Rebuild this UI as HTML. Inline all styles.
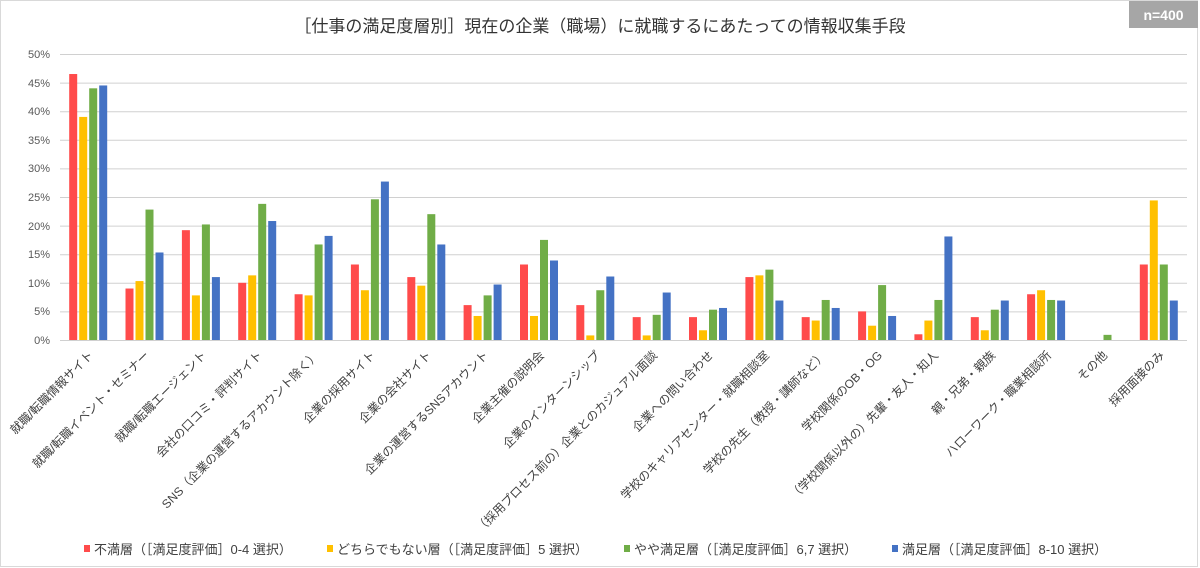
<!DOCTYPE html>
<html><head><meta charset="utf-8"><style>
body{margin:0;background:#fff;}
svg{display:block;font-family:"Liberation Sans","Noto Sans CJK JP",sans-serif;}
</style></head><body>
<svg width="1200" height="568" viewBox="0 0 1200 568" xmlns="http://www.w3.org/2000/svg">
<rect x="0.5" y="0.5" width="1197" height="566" fill="#fff" stroke="#d9d9d9"/>
<rect x="1129" y="1" width="69" height="27" fill="#a6a6a6"/>
<text x="1163.5" y="20" text-anchor="middle" font-size="14" font-weight="bold" fill="#fff">n=400</text>
<text x="600" y="32" text-anchor="middle" font-size="17" fill="#333">［仕事の満足度層別］現在の企業（職場）に就職するにあたっての情報収集手段</text>
<g stroke="#d0d0d0" stroke-width="1">
<line x1="60" x2="1187" y1="54.5" y2="54.5"/><line x1="60" x2="1187" y1="83.1" y2="83.1"/>
<line x1="60" x2="1187" y1="111.7" y2="111.7"/><line x1="60" x2="1187" y1="140.3" y2="140.3"/>
<line x1="60" x2="1187" y1="168.9" y2="168.9"/><line x1="60" x2="1187" y1="197.5" y2="197.5"/>
<line x1="60" x2="1187" y1="226.1" y2="226.1"/><line x1="60" x2="1187" y1="254.7" y2="254.7"/>
<line x1="60" x2="1187" y1="283.3" y2="283.3"/><line x1="60" x2="1187" y1="311.9" y2="311.9"/>
<line x1="60" x2="1187" y1="340.5" y2="340.5"/>
</g>
<g font-size="11" fill="#595959" text-anchor="end">
<text x="50" y="58">50%</text><text x="50" y="87">45%</text><text x="50" y="115">40%</text>
<text x="50" y="144">35%</text><text x="50" y="172">30%</text><text x="50" y="201">25%</text>
<text x="50" y="230">20%</text><text x="50" y="258">15%</text><text x="50" y="287">10%</text>
<text x="50" y="315">5%</text><text x="50" y="344">0%</text>
</g>
<g id="bars">
<g transform="translate(88.2,340) scale(1,-5.72)"><rect x="-19" width="8" height="46.5" fill="#ff4b4b"/><rect x="-9" width="8" height="39" fill="#ffc000"/><rect x="1" width="8" height="44" fill="#70ad47"/><rect x="11" width="8" height="44.5" fill="#4472c4"/></g>
<g transform="translate(144.5,340) scale(1,-5.72)"><rect x="-19" width="8" height="9" fill="#ff4b4b"/><rect x="-9" width="8" height="10.3" fill="#ffc000"/><rect x="1" width="8" height="22.8" fill="#70ad47"/><rect x="11" width="8" height="15.3" fill="#4472c4"/></g>
<g transform="translate(200.9,340) scale(1,-5.72)"><rect x="-19" width="8" height="19.2" fill="#ff4b4b"/><rect x="-9" width="8" height="7.8" fill="#ffc000"/><rect x="1" width="8" height="20.2" fill="#70ad47"/><rect x="11" width="8" height="11" fill="#4472c4"/></g>
<g transform="translate(257.2,340) scale(1,-5.72)"><rect x="-19" width="8" height="10" fill="#ff4b4b"/><rect x="-9" width="8" height="11.3" fill="#ffc000"/><rect x="1" width="8" height="23.8" fill="#70ad47"/><rect x="11" width="8" height="20.8" fill="#4472c4"/></g>
<g transform="translate(313.6,340) scale(1,-5.72)"><rect x="-19" width="8" height="8" fill="#ff4b4b"/><rect x="-9" width="8" height="7.8" fill="#ffc000"/><rect x="1" width="8" height="16.7" fill="#70ad47"/><rect x="11" width="8" height="18.2" fill="#4472c4"/></g>
<g transform="translate(369.9,340) scale(1,-5.72)"><rect x="-19" width="8" height="13.2" fill="#ff4b4b"/><rect x="-9" width="8" height="8.7" fill="#ffc000"/><rect x="1" width="8" height="24.6" fill="#70ad47"/><rect x="11" width="8" height="27.7" fill="#4472c4"/></g>
<g transform="translate(426.3,340) scale(1,-5.72)"><rect x="-19" width="8" height="11" fill="#ff4b4b"/><rect x="-9" width="8" height="9.5" fill="#ffc000"/><rect x="1" width="8" height="22" fill="#70ad47"/><rect x="11" width="8" height="16.7" fill="#4472c4"/></g>
<g transform="translate(482.6,340) scale(1,-5.72)"><rect x="-19" width="8" height="6.1" fill="#ff4b4b"/><rect x="-9" width="8" height="4.2" fill="#ffc000"/><rect x="1" width="8" height="7.8" fill="#70ad47"/><rect x="11" width="8" height="9.7" fill="#4472c4"/></g>
<g transform="translate(539,340) scale(1,-5.72)"><rect x="-19" width="8" height="13.2" fill="#ff4b4b"/><rect x="-9" width="8" height="4.2" fill="#ffc000"/><rect x="1" width="8" height="17.5" fill="#70ad47"/><rect x="11" width="8" height="13.9" fill="#4472c4"/></g>
<g transform="translate(595.3,340) scale(1,-5.72)"><rect x="-19" width="8" height="6.1" fill="#ff4b4b"/><rect x="-9" width="8" height="0.8" fill="#ffc000"/><rect x="1" width="8" height="8.7" fill="#70ad47"/><rect x="11" width="8" height="11.1" fill="#4472c4"/></g>
<g transform="translate(651.7,340) scale(1,-5.72)"><rect x="-19" width="8" height="4" fill="#ff4b4b"/><rect x="-9" width="8" height="0.8" fill="#ffc000"/><rect x="1" width="8" height="4.4" fill="#70ad47"/><rect x="11" width="8" height="8.3" fill="#4472c4"/></g>
<g transform="translate(708,340) scale(1,-5.72)"><rect x="-19" width="8" height="4" fill="#ff4b4b"/><rect x="-9" width="8" height="1.7" fill="#ffc000"/><rect x="1" width="8" height="5.3" fill="#70ad47"/><rect x="11" width="8" height="5.6" fill="#4472c4"/></g>
<g transform="translate(764.4,340) scale(1,-5.72)"><rect x="-19" width="8" height="11" fill="#ff4b4b"/><rect x="-9" width="8" height="11.3" fill="#ffc000"/><rect x="1" width="8" height="12.3" fill="#70ad47"/><rect x="11" width="8" height="6.9" fill="#4472c4"/></g>
<g transform="translate(820.7,340) scale(1,-5.72)"><rect x="-19" width="8" height="4" fill="#ff4b4b"/><rect x="-9" width="8" height="3.4" fill="#ffc000"/><rect x="1" width="8" height="7" fill="#70ad47"/><rect x="11" width="8" height="5.6" fill="#4472c4"/></g>
<g transform="translate(877.1,340) scale(1,-5.72)"><rect x="-19" width="8" height="5" fill="#ff4b4b"/><rect x="-9" width="8" height="2.5" fill="#ffc000"/><rect x="1" width="8" height="9.6" fill="#70ad47"/><rect x="11" width="8" height="4.2" fill="#4472c4"/></g>
<g transform="translate(933.4,340) scale(1,-5.72)"><rect x="-19" width="8" height="1" fill="#ff4b4b"/><rect x="-9" width="8" height="3.4" fill="#ffc000"/><rect x="1" width="8" height="7" fill="#70ad47"/><rect x="11" width="8" height="18.1" fill="#4472c4"/></g>
<g transform="translate(989.8,340) scale(1,-5.72)"><rect x="-19" width="8" height="4" fill="#ff4b4b"/><rect x="-9" width="8" height="1.7" fill="#ffc000"/><rect x="1" width="8" height="5.3" fill="#70ad47"/><rect x="11" width="8" height="6.9" fill="#4472c4"/></g>
<g transform="translate(1046.1,340) scale(1,-5.72)"><rect x="-19" width="8" height="8" fill="#ff4b4b"/><rect x="-9" width="8" height="8.7" fill="#ffc000"/><rect x="1" width="8" height="7" fill="#70ad47"/><rect x="11" width="8" height="6.9" fill="#4472c4"/></g>
<g transform="translate(1102.5,340) scale(1,-5.72)"><rect x="1" width="8" height="0.9" fill="#70ad47"/></g>
<g transform="translate(1158.8,340) scale(1,-5.72)"><rect x="-19" width="8" height="13.2" fill="#ff4b4b"/><rect x="-9" width="8" height="24.4" fill="#ffc000"/><rect x="1" width="8" height="13.2" fill="#70ad47"/><rect x="11" width="8" height="6.9" fill="#4472c4"/></g>
</g>
<g font-size="12" fill="#404040" text-anchor="end">
<text transform="translate(94,356) rotate(-45)">就職/転職情報サイト</text>
<text transform="translate(150,356) rotate(-45)">就職/転職イベント・セミナー</text>
<text transform="translate(207,356) rotate(-45)">就職/転職エージェント</text>
<text transform="translate(263,356) rotate(-45)">会社の口コミ・評判サイト</text>
<text transform="translate(320,356) rotate(-45)">SNS（企業の運営するアカウント除く）</text>
<text transform="translate(376,356) rotate(-45)">企業の採用サイト</text>
<text transform="translate(432,356) rotate(-45)">企業の会社サイト</text>
<text transform="translate(489,356) rotate(-45)">企業の運営するSNSアカウント</text>
<text transform="translate(545,356) rotate(-45)">企業主催の説明会</text>
<text transform="translate(601,356) rotate(-45)">企業のインターンシップ</text>
<text transform="translate(658,356) rotate(-45)">（採用プロセス前の）企業とのカジュアル面談</text>
<text transform="translate(714,356) rotate(-45)">企業への問い合わせ</text>
<text transform="translate(770,356) rotate(-45)">学校のキャリアセンター・就職相談室</text>
<text transform="translate(827,356) rotate(-45)">学校の先生（教授・講師など）</text>
<text transform="translate(883,356) rotate(-45)">学校関係のOB・OG</text>
<text transform="translate(939,356) rotate(-45)">（学校関係以外の）先輩・友人・知人</text>
<text transform="translate(996,356) rotate(-45)">親・兄弟・親族</text>
<text transform="translate(1052,356) rotate(-45)">ハローワーク・職業相談所</text>
<text transform="translate(1108,356) rotate(-45)">その他</text>
<text transform="translate(1165,356) rotate(-45)">採用面接のみ</text>
</g>
<g font-size="13" fill="#404040">
<rect x="84" y="545" width="6" height="7" fill="#ff4b4b"/><text x="94" y="554">不満層（［満足度評価］0-4 選択）</text>
<rect x="327" y="545" width="6" height="7" fill="#ffc000"/><text x="337" y="554">どちらでもない層（［満足度評価］5 選択）</text>
<rect x="624" y="545" width="6" height="7" fill="#70ad47"/><text x="634" y="554">やや満足層（［満足度評価］6,7 選択）</text>
<rect x="892" y="545" width="6" height="7" fill="#4472c4"/><text x="902" y="554">満足層（［満足度評価］8-10 選択）</text>
</g>
</svg>
</body></html>
